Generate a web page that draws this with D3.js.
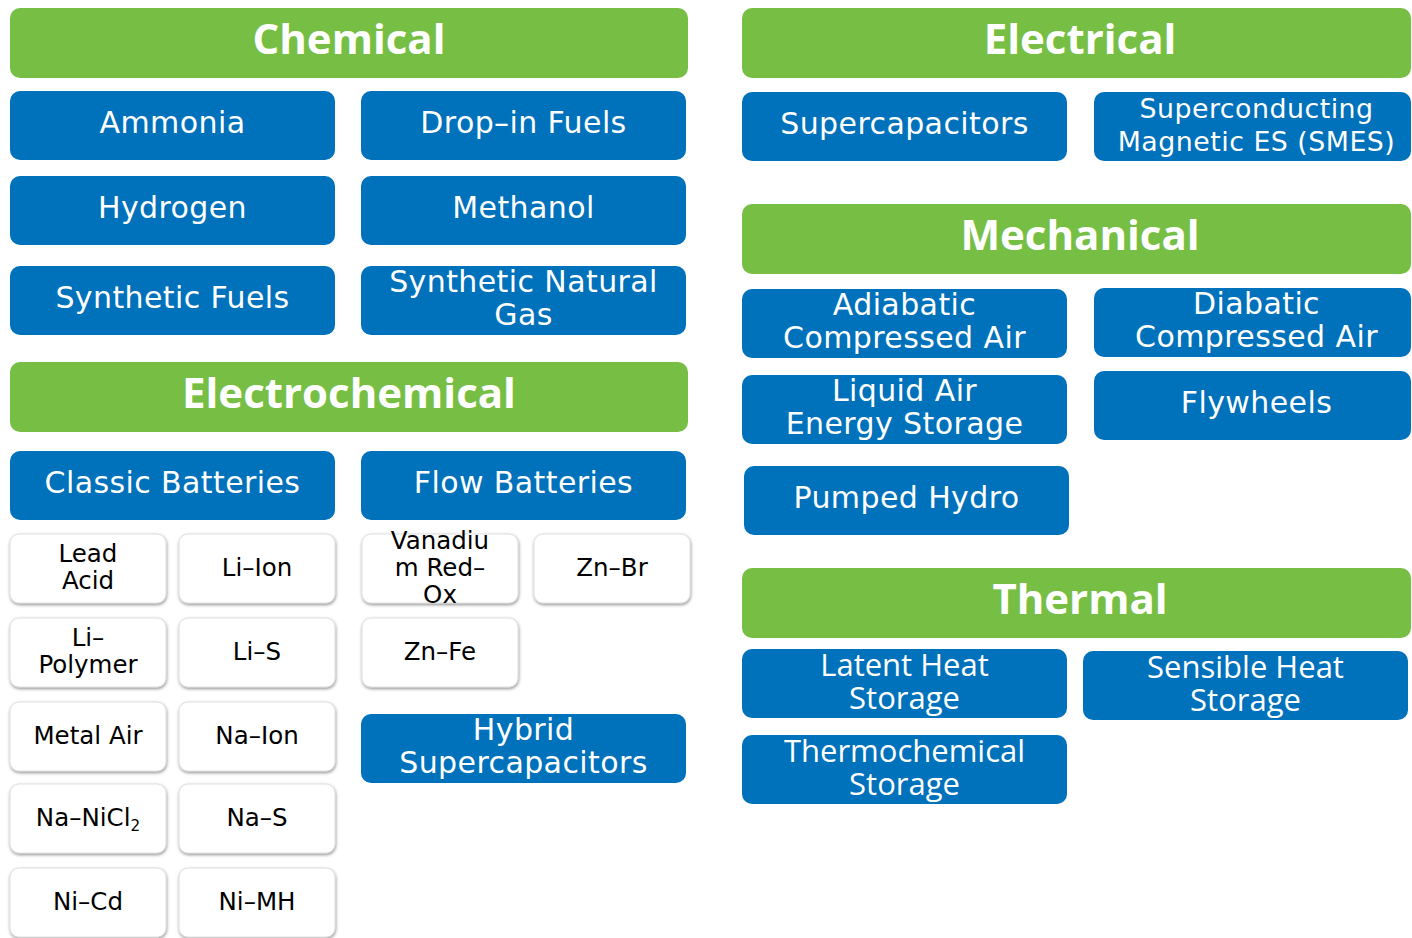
<!DOCTYPE html>
<html>
<head>
<meta charset="utf-8">
<title>Energy storage technologies</title>
<script src="https://d3js.org/d3.v7.min.js"></script>
<style>
  html, body { margin: 0; padding: 0; background: #fff; }
  svg { display: block; }
</style>
</head>
<body>
<div id="container"></div>
<script>
// ******* Data *******
const categories = ["Chemical", "Electrochemical", "Electrical", "Mechanical", "Thermal"];
const chemical = ["Ammonia", "Drop–in Fuels", "Hydrogen", "Methanol", "Synthetic Fuels", "Synthetic Natural\nGas"];
const electrochemical = ["Classic Batteries", "Flow Batteries", "Hybrid\nSupercapacitors"];
const classicBatteries = ["Lead\nAcid", "Li–Ion", "Li–\nPolymer", "Li–S", "Metal Air", "Na–Ion",
                          "Na–NiCl_2", "Na–S", "Ni–Cd", "Ni–MH"];
const flowBatteries = ["Vanadiu\nm Red–\nOx", "Zn–Br", "Zn–Fe"];
const electrical = ["Supercapacitors", "Superconducting\nMagnetic ES (SMES)"];
const mechanical = ["Adiabatic\nCompressed Air", "Diabatic\nCompressed Air", "Liquid Air\nEnergy Storage",
                    "Flywheels", "Pumped Hydro"];
const thermal = ["Latent Heat\nStorage", "Sensible Heat\nStorage", "Thermochemical\nStorage"];

// ******* Layout *******
const width = 1412, height = 938;
const green = "#76bf44", blue = "#0071bb";
const boxH = 69, wideW = 325, narrowW = 156, rightEdge = 1411;

const panelX = { left: [10, 688], right: [742, 1418] };
const headerY = { Chemical: 8, Electrochemical: 362, Electrical: 8, Mechanical: 204, Thermal: 568 };

const leftWideX = [10, 361];
const narrowX = [10, 179, 362, 534];
const rightX = [742, 1094];
const thermalX = [742, 1083];

const chemRows = [91, 176, 266];
const cellRows = [534, 618, 702, 784, 868];
const mechRows = [289, 373, 464];
const thermRows = [649, 735];

const svg = d3.select("#container").append("svg")
    .attr("width", width)
    .attr("height", height);

// drop shadow for the white battery cells
const filt = svg.append("defs").append("filter")
    .attr("id", "shadow")
    .attr("x", "-20%").attr("y", "-20%")
    .attr("width", "140%").attr("height", "150%");
filt.append("feDropShadow")
    .attr("dx", 0.5).attr("dy", 1.5)
    .attr("stdDeviation", 1.8)
    .attr("flood-color", "#000")
    .attr("flood-opacity", 0.45);

const styles = {
  header: { fill: green, r: 10, color: "#fff", font: "'Open Sans', sans-serif", size: 42, weight: 700, lh: 44, dy: 11, ls: 0 },
  blue:   { fill: blue, r: 10, color: "#fff", font: "'DejaVu Sans', sans-serif", size: 30, weight: 400, lh: 33, dy: 7.5, ls: 0.4 },
  smes:   { fill: blue, r: 10, color: "#fff", font: "'DejaVu Sans', sans-serif", size: 26.8, weight: 400, lh: 33, dy: 7.5, ls: 0.5 },
  therm:  { fill: blue, r: 10, color: "#fff", font: "'Open Sans', sans-serif", size: 31, weight: 400, lh: 33, dy: 9, ls: 0 },
  cell:   { fill: "#fff", r: 9, color: "#000", font: "'DejaVu Sans', sans-serif", size: 24.5, weight: 400, lh: 27, dy: 7, ls: 0 }
};

function box(d) {
  const st = styles[d.style];
  const g = svg.append("g").attr("transform", `translate(${d.x},${d.y})`);
  g.append("rect")
    .attr("width", Math.min(d.w, rightEdge - d.x)).attr("height", d.h)
    .attr("rx", st.r).attr("ry", st.r)
    .attr("fill", st.fill)
    .attr("stroke", d.style === "cell" ? "#d8d8d8" : "none")
    .attr("stroke-width", 0.8)
    .attr("filter", d.style === "cell" ? "url(#shadow)" : null);

  const lines = d.label.split("\n");
  const first = d.h / 2 + st.dy - (lines.length - 1) * st.lh / 2;
  const t = g.append("text")
    .attr("text-anchor", "middle")
    .attr("fill", st.color)
    .style("font-family", st.font)
    .style("font-size", st.size + "px")
    .style("font-weight", st.weight)
    .style("letter-spacing", st.ls + "px");
  lines.forEach((ln, i) => {
    const parts = ln.split("_");
    t.append("tspan")
      .attr("x", d.w / 2)
      .attr("y", first + i * st.lh)
      .text(parts[0]);
    if (parts[1]) {
      // subscript (NiCl2)
      t.append("tspan")
        .attr("dy", 5)
        .style("font-size", (st.size * 0.62) + "px")
        .text(parts[1]);
    }
  });
}

const boxes = [];

// headers
categories.forEach((c, i) => {
  const p = i < 2 ? panelX.left : panelX.right;
  boxes.push({ label: c, style: "header", x: p[0], y: headerY[c], w: p[1] - p[0], h: 70 });
});

// chemical
chemical.forEach((c, i) => {
  boxes.push({ label: c, style: "blue", x: leftWideX[i % 2], y: chemRows[Math.floor(i / 2)], w: wideW, h: boxH });
});

// electrochemical groups
const ecCols = [0, 1, 1], ecRows = [451, 451, 714];
electrochemical.forEach((c, i) => {
  boxes.push({ label: c, style: "blue", x: leftWideX[ecCols[i]], y: ecRows[i], w: wideW, h: boxH });
});

// classic batteries
classicBatteries.forEach((c, i) => {
  boxes.push({ label: c, style: "cell", x: narrowX[i % 2], y: cellRows[Math.floor(i / 2)], w: narrowW, h: boxH });
});

// flow batteries
flowBatteries.forEach((c, i) => {
  boxes.push({ label: c, style: "cell", x: narrowX[2 + i % 2], y: cellRows[Math.floor(i / 2)], w: narrowW, h: boxH });
});

// electrical
electrical.forEach((c, i) => {
  boxes.push({ label: c, style: i === 1 ? "smes" : "blue", x: rightX[i], y: 92, w: wideW, h: boxH });
});

// mechanical
const mechShift = [0, -1, 2, -2, 2];
mechanical.forEach((c, i) => {
  boxes.push({ label: c, style: "blue", x: rightX[i % 2] + (i === 4 ? 2 : 0),
               y: mechRows[Math.floor(i / 2)] + mechShift[i], w: wideW, h: boxH });
});

// thermal
const thermShift = [0, 2, 0];
thermal.forEach((c, i) => {
  boxes.push({ label: c, style: "therm", x: thermalX[i % 2], y: thermRows[Math.floor(i / 2)] + thermShift[i], w: wideW, h: boxH });
});

boxes.forEach(box);
</script>
</body>
</html>
